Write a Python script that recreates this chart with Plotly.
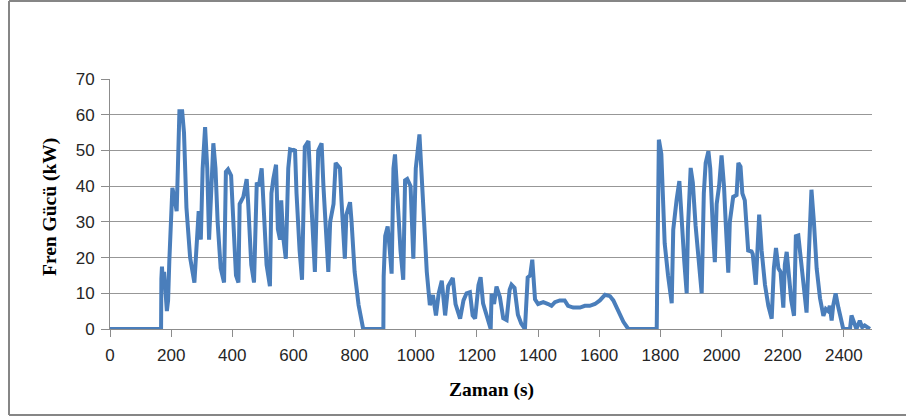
import plotly.graph_objects as go

time_s = [0, 167, 168, 170, 173, 177, 186, 190, 194, 200, 204, 212, 218, 222, 227, 236, 242, 250, 262, 276,
          283, 290, 297, 303, 311, 318, 324, 330, 338, 345, 352, 362, 373, 379, 386, 396, 402, 412, 420, 424,
          436, 447, 452, 462, 471, 480, 487, 496, 502, 512, 523, 528, 534, 543, 549, 556, 560, 566, 575, 583,
          589, 600, 605, 610, 620, 628, 637, 649, 658, 670, 681, 692, 698, 706, 714, 720, 731, 738, 752, 757,
          768, 773, 785, 790, 800, 813, 820, 828, 894, 895, 900, 908, 915, 921, 927, 932, 940, 950, 959, 965,
          972, 983, 992, 1000, 1012, 1020, 1028, 1036, 1046, 1056, 1066, 1075, 1085, 1096, 1106, 1121, 1130,
          1145, 1156, 1166, 1177, 1186, 1194, 1205, 1212, 1220, 1234, 1245, 1248, 1256, 1264, 1275, 1286,
          1297, 1307, 1313, 1323, 1334, 1345, 1357, 1366, 1374, 1381, 1390, 1400, 1417, 1433, 1444, 1455,
          1471, 1487, 1498, 1515, 1537, 1553, 1569, 1586, 1602, 1619, 1635, 1646, 1657, 1668, 1679, 1695,
          1788, 1790, 1795, 1803, 1809, 1814, 1825, 1837, 1842, 1848, 1853, 1862, 1870, 1878, 1886, 1890,
          1899, 1906, 1915, 1924, 1935, 1942, 1948, 1957, 1963, 1971, 1978, 1984, 1992, 2000, 2008, 2014,
          2022, 2027, 2038, 2049, 2055, 2062, 2068, 2076, 2081, 2087, 2098, 2102, 2112, 2117, 2123, 2131,
          2142, 2153, 2164, 2171, 2178, 2186, 2193, 2202, 2207, 2213, 2220, 2228, 2237, 2243, 2251, 2258,
          2267, 2278, 2284, 2289, 2294, 2302, 2311, 2322, 2333, 2341, 2349, 2354, 2360, 2365, 2373, 2382,
          2390, 2398, 2420, 2425, 2433, 2441, 2452, 2460, 2468, 2485]

brake_kw = [0, 0, 14, 17.5, 12, 16, 5, 8, 19, 37, 39.5, 36, 33, 45, 61, 61, 55, 34, 20, 13,
            26, 33, 25, 45, 56.5, 45, 25, 35, 52, 45, 30, 17, 13, 44, 44.7, 43, 33, 15, 13, 35,
            37, 42, 35, 18, 13, 41, 40, 45, 35, 18, 12, 38, 42, 46, 28, 25, 36, 26, 19.7, 45,
            50.3, 50, 50.3, 38, 22, 13.8, 51, 52.6, 36, 16, 50, 52, 40, 26, 16, 30, 35, 46.5, 45, 36,
            19.7, 32, 35.5, 30, 16, 6.7, 3.5, 0, 0, 14.7, 26, 28.7, 22, 15.5, 45, 48.9, 37, 22, 13.8, 41.6,
            42, 40, 19.7, 45, 54.5, 40, 26, 16, 6.7, 9.5, 3.8, 10, 13.5, 3.8, 12, 14.3, 7,
            2.9, 8, 10, 10.3, 3.8, 2.9, 12.3, 14.5, 7.2, 3.2, 0, 9.9, 7, 11.9, 9, 3,
            2.5, 11, 12.4, 11.5, 4, 1.5, 0, 14.4, 15, 19.4, 8.3, 7, 7.5, 7, 6.5, 7.5,
            8, 8, 6.5, 6, 6, 6.5, 6.5, 7, 8, 9.6, 9.2, 8, 6, 4, 2, 0,
            0, 16, 53, 49, 38, 24, 15, 7.2, 27.8, 33.4, 36.2, 41.4, 28, 19, 10, 28,
            45.1, 41, 29, 20, 10, 38, 46.5, 49.8, 45, 29, 18.7, 35, 40, 48.6, 40, 29,
            15.8, 30, 37, 37.5, 46.5, 45.5, 38, 36, 29, 22, 21.7, 21, 12.4, 25, 32, 22,
            12.4, 6.5, 2.9, 17, 22.7, 17, 16, 6, 18, 21.6, 16, 8, 3.7, 26, 26.2, 21,
            12.4, 4.6, 18, 29, 39, 30, 17, 8.6, 3.7, 5.6, 5, 6.5, 2.4, 6.5, 10, 6,
            3.2, 0, 0, 3.8, 1.9, 0, 2.3, 0.5, 1, 0]

x_ticks = [0, 200, 400, 600, 800, 1000, 1200, 1400, 1600, 1800, 2000, 2200, 2400]
y_ticks = [0, 10, 20, 30, 40, 50, 60, 70]

fig = go.Figure()
fig.add_trace(go.Scatter(x=time_s, y=brake_kw, mode="lines",
                         line=dict(color="#4A7EBB", width=4), hoverinfo="x+y"))

tick_font = dict(family="Liberation Sans, Arial, sans-serif", size=17, color="#262626")
title_font = dict(family="Liberation Serif, Times New Roman, serif", size=19.5, color="black")

fig.update_layout(
    width=906, height=418,
    margin=dict(l=110, r=34, t=79, b=89),
    paper_bgcolor="white", plot_bgcolor="white",
    showlegend=False,
    xaxis=dict(range=[0, 2492], tickvals=x_ticks, ticktext=[str(v) for v in x_ticks],
               showgrid=False, zeroline=False, showline=True, linecolor="#8C8C8C", linewidth=1,
               ticks="outside", ticklen=7, tickcolor="#8C8C8C", tickfont=tick_font,
               ticklabelstandoff=4),
    yaxis=dict(range=[0, 70], tickvals=y_ticks, ticktext=[str(v) for v in y_ticks],
               showgrid=True, gridcolor="#979797", gridwidth=1, zeroline=False,
               showline=True, linecolor="#8C8C8C", linewidth=1,
               ticks="outside", ticklen=8, tickcolor="#8C8C8C", tickfont=tick_font,
               ticklabelstandoff=3),
    annotations=[
        dict(text="<b>Fren Gücü (kW)</b>", xref="paper", yref="paper", x=(50 - 110) / 762,
             y=(329 - 207) / 250, textangle=-90, showarrow=False, xanchor="center", yanchor="middle",
             font=title_font),
        dict(text="<b>Zaman (s)</b>", xref="paper", yref="paper", x=(491 - 110) / 762,
             y=(329 - 390) / 250, showarrow=False, xanchor="center", yanchor="middle",
             font=title_font),
    ],
    shapes=[
        dict(type="line", xref="paper", yref="paper", x0=(9 - 110) / 762, x1=(9 - 110) / 762,
             y0=(329 - 415) / 250, y1=(329 - 1) / 250, line=dict(color="#868686", width=2)),
        dict(type="line", xref="paper", yref="paper", x0=(9 - 110) / 762, x1=(915 - 110) / 762,
             y0=(329 - 1) / 250, y1=(329 - 1) / 250, line=dict(color="#868686", width=2)),
        dict(type="line", xref="paper", yref="paper", x0=(9 - 110) / 762, x1=(915 - 110) / 762,
             y0=(329 - 415) / 250, y1=(329 - 415) / 250, line=dict(color="#868686", width=2)),
    ],
)

fig.write_html("out.html", config={"displayModeBar": False},
               post_script="document.body.style.margin='0px';")
